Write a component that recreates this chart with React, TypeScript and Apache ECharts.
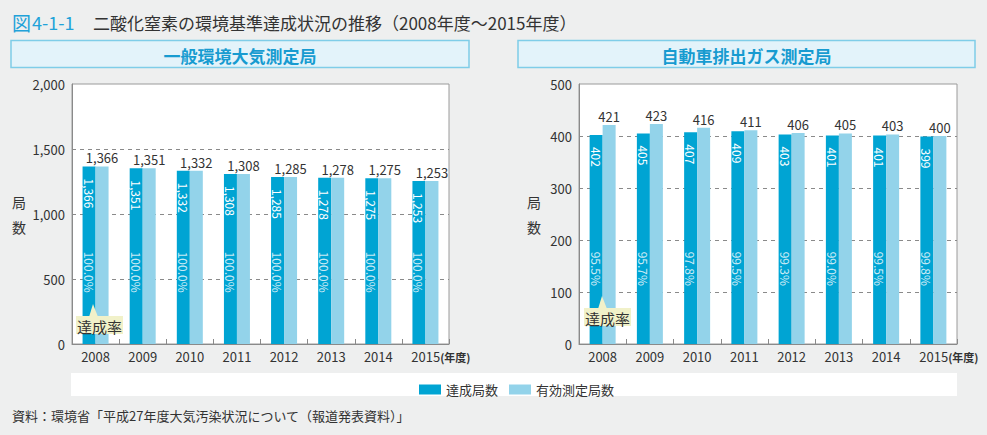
import React, { useEffect, useRef } from "react";
import * as echarts from "echarts";

const years = ["2008", "2009", "2010", "2011", "2012", "2013", "2014", "2015"];
const generalAchieved = [1366, 1351, 1332, 1308, 1285, 1278, 1275, 1253];
const generalValid = [1366, 1351, 1332, 1308, 1285, 1278, 1275, 1253];
const generalRate = [100.0, 100.0, 100.0, 100.0, 100.0, 100.0, 100.0, 100.0];
const roadsideAchieved = [402, 405, 407, 409, 403, 401, 401, 399];
const roadsideValid = [421, 423, 416, 411, 406, 405, 403, 400];
const roadsideRate = [95.5, 95.7, 97.8, 99.5, 99.3, 99.0, 99.5, 99.8];
const generalAxis = { min: 0, max: 2000, interval: 500 };
const roadsideAxis = { min: 0, max: 500, interval: 100 };

const FONT = "'Noto Sans CJK JP', 'Noto Sans', sans-serif";
const DARK = "#00a4d3";
const LIGHT = "#93d3ea";
const TXT = "#333333";
const PCT_FRAC = 0.355;

const fmt = (v: number) => v.toLocaleString("en-US");

function xAxis(gridIndex: number) {
  return {
    type: "category",
    gridIndex,
    data: years,
    axisLine: { lineStyle: { color: "#8a8a8a" } },
    axisTick: { show: true, inside: true, length: 5, lineStyle: { color: "#8a8a8a" } },
    axisLabel: {
      interval: 0,
      hideOverlap: false,
      color: TXT,
      fontSize: 13,
      fontFamily: FONT,
      margin: 6,
      formatter: (v: string, i: number) =>
        i === years.length - 1 ? `{a|${v}}{b|(年度)}` : v,
      rich: {
        a: { fontSize: 13, fontFamily: FONT, color: TXT, padding: [0, 0, 0, 31] },
        b: { fontSize: 11, fontFamily: FONT, color: TXT, fontWeight: "bold" },
      },
    },
  };
}

function yAxis(gridIndex: number, ax: { min: number; max: number; interval: number }) {
  return {
    type: "value",
    gridIndex,
    min: ax.min,
    max: ax.max,
    interval: ax.interval,
    axisLine: { show: true, lineStyle: { color: "#8a8a8a" } },
    axisTick: { show: false },
    axisLabel: { color: TXT, fontSize: 13, fontFamily: FONT, margin: 7, formatter: (v: number) => fmt(v) },
    splitLine: { show: true, showMaxLine: false, lineStyle: { color: "#8a8a8a", type: [4, 4], width: 1 } },
  };
}

function seriesFor(
  idx: number,
  achieved: number[],
  valid: number[],
  rate: number[],
  ax: { max: number }
) {
  return [
    {
      name: "達成局数",
      type: "bar",
      xAxisIndex: idx,
      yAxisIndex: idx,
      data: achieved,
      barWidth: 13,
      barGap: "0%",
      itemStyle: { color: DARK },
      label: {
        show: true,
        position: "insideTop",
        distance: 12,
        rotate: -90,
        align: "left",
        verticalAlign: "middle",
        color: "#ffffff",
        fontSize: 12,
        fontFamily: FONT,
        formatter: (p: any) => fmt(p.value),
      },
    },
    {
      name: "有効測定局数",
      type: "bar",
      xAxisIndex: idx,
      yAxisIndex: idx,
      data: valid,
      barWidth: 13,
      barGap: "0%",
      itemStyle: { color: LIGHT },
      label: {
        show: true,
        position: "top",
        distance: 2,
        color: TXT,
        fontSize: 13,
        fontFamily: FONT,
        formatter: (p: any) => fmt(p.value),
      },
    },
    {
      name: "rate" + idx,
      type: "scatter",
      xAxisIndex: idx,
      yAxisIndex: idx,
      silent: true,
      symbolSize: 1,
      z: 5,
      itemStyle: { color: "rgba(0,0,0,0)" },
      data: years.map((_, i) => [i, ax.max * PCT_FRAC]),
      label: {
        show: true,
        position: "inside",
        rotate: -90,
        align: "left",
        verticalAlign: "middle",
        offset: [0, 6.5],
        color: "#ffffff",
        fontSize: 12,
        fontFamily: FONT,
        formatter: (p: any) => rate[p.dataIndex].toFixed(1) + "%",
      },
    },
  ];
}

function callout(boxX: number, boxY: number, tipX: number, tipY: number) {
  const w = 47;
  const h = 18;
  return [
    {
      type: "rect",
      z: 100,
      shape: { x: boxX, y: boxY, width: w, height: h },
      style: { fill: "#f1f1c9" },
    },
    {
      type: "polygon",
      z: 100,
      shape: { points: [[tipX, tipY], [tipX - 4, boxY + 1], [tipX + 5, boxY + 1]] },
      style: { fill: "#f1f1c9" },
    },
    {
      type: "text",
      z: 101,
      x: boxX + w / 2,
      y: boxY + h / 2 + 1,
      style: {
        text: "達成率",
        fill: TXT,
        font: `15px ${FONT}`,
        textAlign: "center",
        textVerticalAlign: "middle",
      },
    },
  ];
}

function header(x: number, w: number, text: string) {
  return [
    {
      type: "rect",
      z: 0,
      shape: { x, y: 40.5, width: w, height: 27 },
      style: { fill: "#e3f3fa", stroke: "#7fcde8", lineWidth: 1.5 },
    },
    {
      type: "text",
      z: 1,
      x: x + w / 2,
      y: 55,
      style: {
        text,
        fill: "#179bd0",
        font: `bold 17px ${FONT}`,
        textAlign: "center",
        textVerticalAlign: "middle",
      },
    },
  ];
}

export default function App() {
  const ref = useRef<HTMLDivElement>(null);
  useEffect(() => {
    if (!ref.current) return;
    const chart = echarts.init(ref.current, undefined, { renderer: "svg" });
    chart.setOption({
      animation: false,
      backgroundColor: "#eeefef",
      textStyle: { fontFamily: FONT },
      grid: [
        { left: 72, top: 84, width: 377, height: 260, show: true, backgroundColor: "#ffffff", borderColor: "#9a9a9a", borderWidth: 1 },
        { left: 579, top: 84, width: 378, height: 260, show: true, backgroundColor: "#ffffff", borderColor: "#9a9a9a", borderWidth: 1 },
      ],
      xAxis: [xAxis(0), xAxis(1)],
      yAxis: [yAxis(0, generalAxis), yAxis(1, roadsideAxis)],
      legend: {
        data: ["達成局数", "有効測定局数"],
        left: 414,
        top: 378,
        itemWidth: 22,
        itemHeight: 10,
        itemGap: 11,
        icon: "rect",
        selectedMode: false,
        textStyle: { color: TXT, fontSize: 13, fontFamily: FONT, padding: [0, 0, 0, 0] },
      },
      graphic: [
        {
          type: "text",
          x: 12,
          y: 22,
          style: { text: "図", fill: "#21a2d9", font: `19px ${FONT}`, textVerticalAlign: "middle" },
        },
        {
          type: "text",
          x: 32,
          y: 22,
          style: { text: "4-1-1", fill: "#21a2d9", font: `18px ${FONT}`, textVerticalAlign: "middle" },
        },
        {
          type: "text",
          x: 93,
          y: 22,
          style: {
            text: "二酸化窒素の環境基準達成状況の推移（2008年度〜2015年度）",
            fill: TXT,
            font: `17px ${FONT}`,
            textVerticalAlign: "middle",
          },
        },
        ...header(11, 458, "一般環境大気測定局"),
        ...header(518, 457, "自動車排出ガス測定局"),
        {
          type: "rect",
          z: -1,
          shape: { x: 71, y: 373, width: 886, height: 23 },
          style: { fill: "#ffffff" },
        },
        {
          type: "text",
          x: 19,
          y: 214,
          style: { text: "局\n数", fill: TXT, font: `14px ${FONT}`, lineHeight: 25, textAlign: "center", textVerticalAlign: "middle" },
        },
        {
          type: "text",
          x: 534,
          y: 214,
          style: { text: "局\n数", fill: TXT, font: `14px ${FONT}`, lineHeight: 25, textAlign: "center", textVerticalAlign: "middle" },
        },
        ...callout(76, 316, 93, 304),
        ...callout(584, 308, 602, 296),
        {
          type: "text",
          x: 12,
          y: 415,
          style: {
            text: "資料：環境省「平成27年度大気汚染状況について（報道発表資料）」",
            fill: TXT,
            font: `13px ${FONT}`,
            textVerticalAlign: "middle",
          },
        },
      ],
      series: [
        ...seriesFor(0, generalAchieved, generalValid, generalRate, generalAxis),
        ...seriesFor(1, roadsideAchieved, roadsideValid, roadsideRate, roadsideAxis),
      ],
    });
    return () => chart.dispose();
  }, []);
  return (
    <div
      ref={ref}
      style={{ position: "fixed", left: 0, top: 0, width: 987, height: 435 }}
    />
  );
}
